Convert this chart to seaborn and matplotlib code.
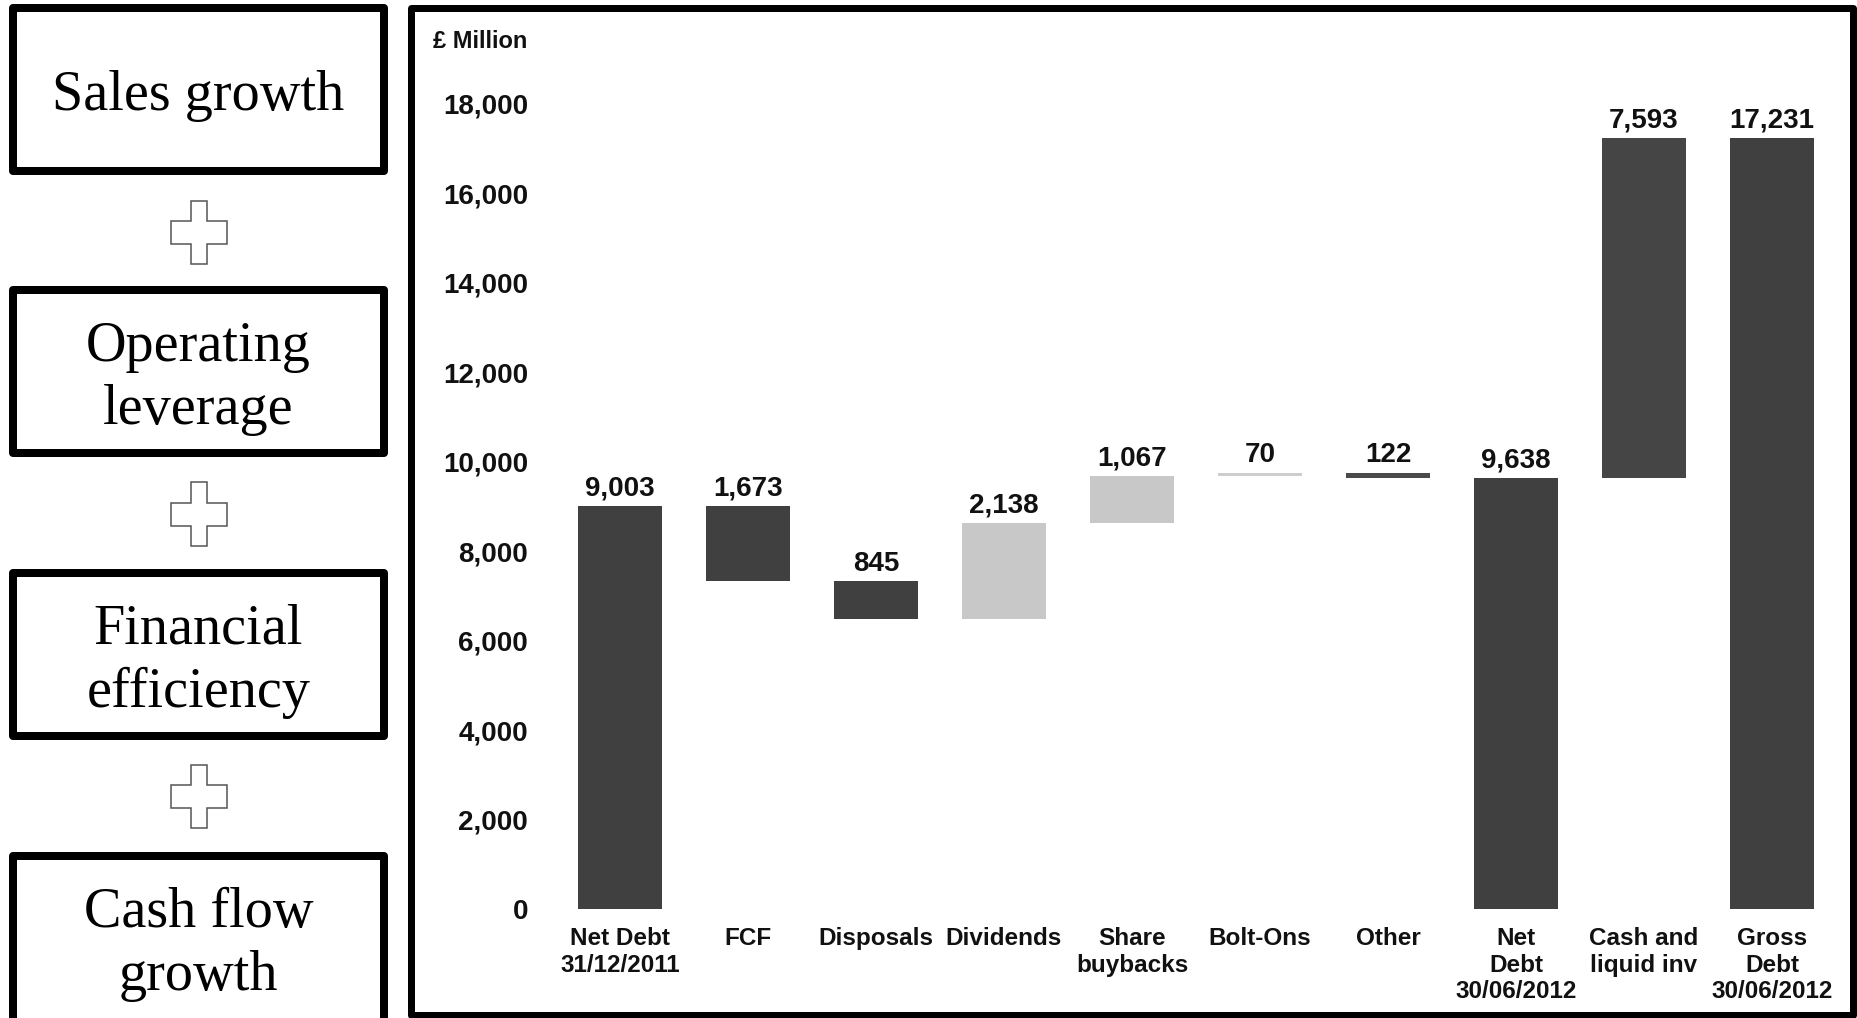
import matplotlib
matplotlib.use("Agg")
import matplotlib.pyplot as plt
from matplotlib.patches import Rectangle, Polygon
import seaborn as sns
import pandas as pd

# ---------------- data ----------------
categories = ["Net Debt\n31/12/2011", "FCF", "Disposals", "Dividends", "Share\nbuybacks",
              "Bolt-Ons", "Other", "Net\nDebt\n30/06/2012", "Cash and\nliquid inv",
              "Gross\nDebt\n30/06/2012"]
value_labels = [9003, 1673, 845, 2138, 1067, 70, 122, 9638, 7593, 17231]
bar_bottoms = [0, 7330, 6485, 6485, 8623, 9690, 9638, 0, 9638, 0]
bar_tops = [9003, 9003, 7330, 8623, 9690, 9760, 9760, 9638, 17231, 17231]
bar_colors = ["#404040", "#404040", "#404040", "#c8c8c8", "#c8c8c8",
              "#cdcdcd", "#4a4a4a", "#404040", "#454545", "#404040"]
y_ticks = [0, 2000, 4000, 6000, 8000, 10000, 12000, 14000, 16000, 18000]
unit_label = "£ Million"
box_texts = ["Sales growth", "Operating\nleverage", "Financial\nefficiency", "Cash flow\ngrowth"]

# ---------------- style ----------------
sns.set_style("white")
plt.rcParams["font.family"] = ["Liberation Sans", "DejaVu Sans"]

W, H = 1858, 1018
fig = plt.figure(figsize=(W / 100, H / 100), dpi=100)
fig.patch.set_facecolor("white")

def fx(px):
    return px / W

def fy(py):
    return 1 - py / H

ax = fig.add_axes([fx(556), fy(909), fx(1280), 805 / H])

df = pd.DataFrame({"cat": categories, "top": bar_tops})
sns.barplot(data=df, x="cat", y="top", hue="cat", palette=dict(zip(categories, bar_colors)),
            legend=False, width=0.65, saturation=1, ax=ax, linewidth=0)

patches = sorted(ax.patches, key=lambda p: p.get_x())
for p, b, t in zip(patches, bar_bottoms, bar_tops):
    p.set_y(b)
    p.set_height(t - b)

for i, (v, t) in enumerate(zip(value_labels, bar_tops)):
    ax.annotate(f"{v:,}", (i, t), xytext=(0, 7.5), textcoords="offset points",
                ha="center", va="baseline", fontsize=20, fontweight="bold", color="#111111")

ax.set_xlim(-0.5, len(categories) - 0.5)
ax.set_ylim(0, 18000)
ax.set_yticks(y_ticks)
ax.set_yticklabels([f"{t:,}" for t in y_ticks], fontsize=20, fontweight="bold", color="#111111")
ax.set_xticks(range(len(categories)))
ax.set_xticklabels(categories, fontsize=17.5, fontweight="bold", color="#111111", linespacing=1.2)
ax.tick_params(axis="y", length=0, pad=20)
ax.tick_params(axis="x", length=0, pad=13)
ax.set_xlabel("")
ax.set_ylabel("")
for s in ax.spines.values():
    s.set_visible(False)
ax.patch.set_alpha(0)

fig.text(fx(527), fy(41), unit_label, ha="right", va="center", fontsize=17,
         fontweight="bold", color="#111111")

# ---------------- decorative frames ----------------
lw_px = 8
def frame(x0, y0, x1, y1, lw=lw_px):
    r = Rectangle((fx(x0), fy(y1)), fx(x1 - x0), (y1 - y0) / H, transform=fig.transFigure,
                  fill=False, edgecolor="black", linewidth=lw * 0.72, joinstyle="round",
                  zorder=5)
    fig.add_artist(r)

frame(411, 8, 1853, 1015, lw=7)

box_tops = [8, 290, 573, 856]
box_h = 163
for top, txt in zip(box_tops, box_texts):
    frame(13, top, 384, top + box_h)
    fig.text(fx(198.5), fy(top + box_h / 2 + 7), txt, ha="center", va="center",
             fontsize=40.5, family=["Liberation Serif", "DejaVu Serif"], linespacing=1.27,
             color="black")

plus_centers = [232, 514, 796]
for cy in plus_centers:
    cx = 199
    a, b = 28, 31.5   # half width, half height
    aw, ah = 8, 11.5  # half arm widths
    pts = [(cx - aw, cy - b), (cx + aw, cy - b), (cx + aw, cy - ah), (cx + a, cy - ah),
           (cx + a, cy + ah), (cx + aw, cy + ah), (cx + aw, cy + b), (cx - aw, cy + b),
           (cx - aw, cy + ah), (cx - a, cy + ah), (cx - a, cy - ah), (cx - aw, cy - ah)]
    poly = Polygon([(fx(x), fy(y)) for x, y in pts], closed=True, transform=fig.transFigure,
                   facecolor="white", edgecolor="#555555", linewidth=1.1)
    fig.add_artist(poly)

fig.savefig("out.png", dpi=100, facecolor="white")
